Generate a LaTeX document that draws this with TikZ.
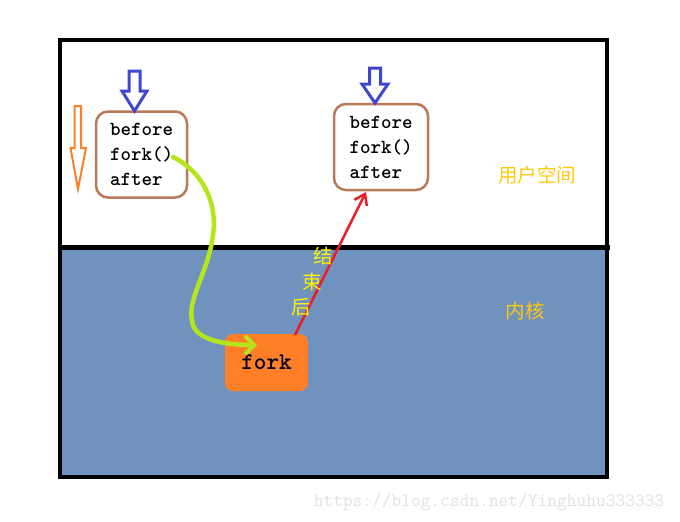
\documentclass[tikz,border=0pt]{standalone}
\usepackage{fontspec}
\setmainfont{Liberation Serif}
\newfontfamily\cjkf{Noto Sans CJK SC}
\usetikzlibrary{arrows.meta}
\definecolor{kernelblue}{HTML}{7092BE}
\definecolor{boxbrown}{HTML}{B97A57}
\definecolor{arrowblue}{HTML}{3F48CC}
\definecolor{forkorange}{HTML}{FF7F27}
\definecolor{limegreen}{HTML}{B5E61D}
\definecolor{redline}{HTML}{ED1C24}
\definecolor{gold}{HTML}{FFC90E}
\definecolor{yellowtxt}{HTML}{FFF200}
\definecolor{wmgray}{HTML}{E2E2DC}
\tikzset{
  codebox/.style={draw=boxbrown, line width=2.5pt, rounded corners=12pt, align=left,
    inner sep=0pt, font=\ttfamily\bfseries\fontsize{20}{25}\selectfont},
  forkbox/.style={fill=forkorange, rounded corners=8pt, inner sep=0pt,
    font=\ttfamily\bfseries\fontsize{24}{26}\selectfont, text=black!85!blue},
  hollow/.style={line width=3pt, line join=miter},
  cjklabel/.style={font=\cjkf\fontsize{19.5}{22}\selectfont, inner sep=0pt},
}
\begin{document}
\begin{tikzpicture}[x=1pt,y=-1pt]
\useasboundingbox (0,0) rectangle (680,522);
% regions
\fill[kernelblue] (60,247) rectangle (607,477);
\draw[line width=4pt] (60,40) rectangle (607,477);
\draw[line width=5pt] (60,247) -- (610,247);
% boxes
\node[codebox, minimum width=91pt, minimum height=86pt] (L) at (141.5,154.5) {before\\fork()\\after};
\node[codebox, minimum width=94pt, minimum height=86pt] (R) at (381,147) {before\\fork()\\after};
\node[forkbox, minimum width=83pt, minimum height=57pt] (F) at (266.5,362.5) {fork};
% hollow arrows
\draw[hollow, arrowblue] (129,71) -- (140,71) -- (140,91) -- (147,91) -- (134.5,111) -- (122,91) -- (129,91) -- cycle;
\draw[hollow, arrowblue] (369.5,68) -- (380.5,68) -- (380.5,84) -- (388,84) -- (375,103) -- (362,84) -- (369.5,84) -- cycle;
\draw[line width=2pt, line join=miter, forkorange] (74.5,106) -- (81,106) -- (81,148) -- (86,148) -- (78,189) -- (70.5,148) -- (74.5,148) -- cycle;
% connectors
\coordinate (gs) at (173,157);
\coordinate (ge) at (257,345);
\draw[limegreen, line width=4.5pt, line cap=round, -{Straight Barb[length=9pt,width=18pt,line width=4pt]}]
  (gs) .. controls (200,170) and (218,200) .. (213,235)
       .. controls (208,275) and (185,300) .. (193,325)
       .. controls (198,340) and (225,345) .. (ge);
\coordinate (rs) at (295,335);
\coordinate (re) at (366,192);
\draw[redline, line width=2.5pt, -{Straight Barb[length=10pt,width=14pt,line width=2.5pt]}] (rs) -- (re);
% labels
\node[cjklabel, text=yellowtxt] (t1) at (323,256) {结};
\node[cjklabel, text=yellowtxt] (t2) at (312,282) {束};
\node[cjklabel, text=yellowtxt] (t3) at (301,307) {后};
\node[cjklabel, text=gold] (us) at (537,175) {用户空间};
\node[cjklabel, text=gold] (kn) at (525,311) {内核};
\node[font=\ttfamily\fontsize{18.9}{22}\selectfont, text=wmgray, inner sep=0pt] (wm) at (489,502) {https://blog.csdn.net/Yinghuhu333333};
\end{tikzpicture}
\end{document}
